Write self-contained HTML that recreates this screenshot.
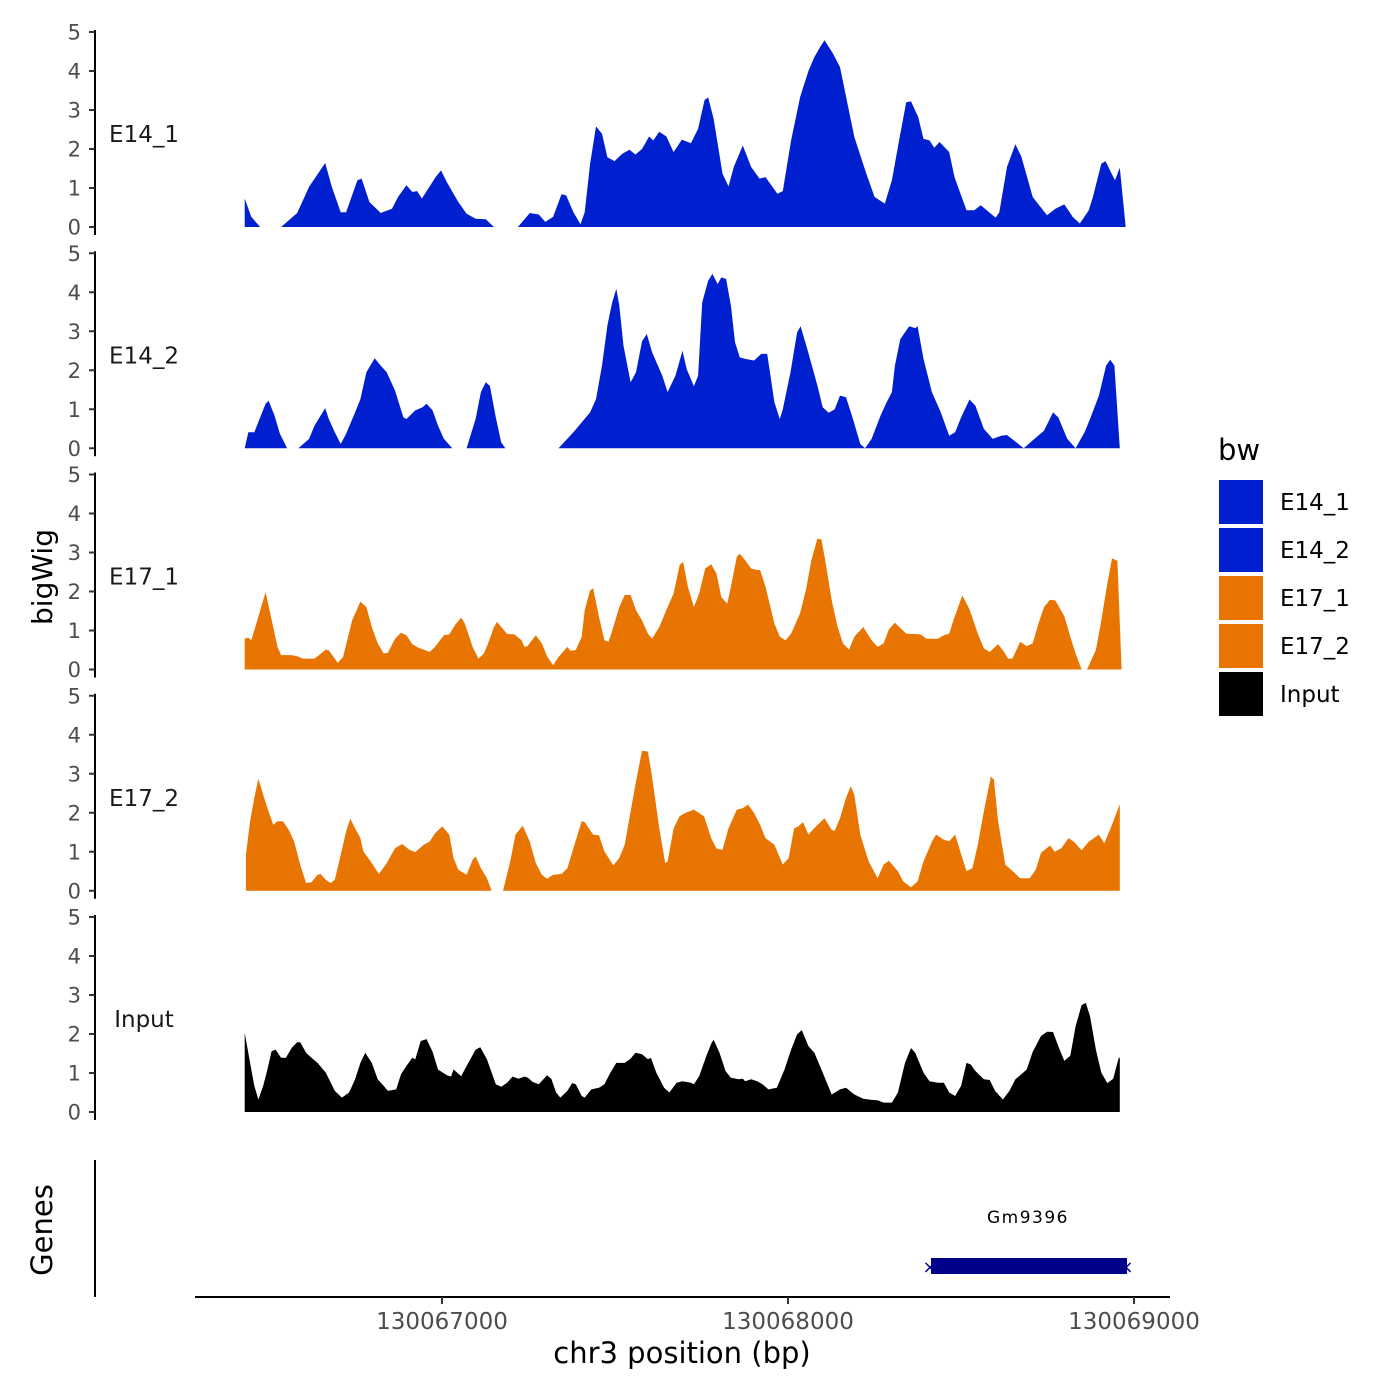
<!DOCTYPE html>
<html><head><meta charset="utf-8"><style>
body{margin:0;background:#fff;}
svg{display:block;font-family:"DejaVu Sans","Liberation Sans",sans-serif;}
</style></head><body>
<svg id="chart" width="1400" height="1400" viewBox="0 0 1400 1400" xmlns="http://www.w3.org/2000/svg">
<rect width="1400" height="1400" fill="#fff"/>
<g id="panels"></g>
<text transform="translate(52,577) rotate(-90)" text-anchor="middle" font-size="28" fill="#000">bigWig</text>
<text transform="translate(52,1230) rotate(-90)" text-anchor="middle" font-size="29" fill="#000">Genes</text>
<line x1="95" y1="1160" x2="95" y2="1297" stroke="#000" stroke-width="2"/>
<line x1="195" y1="1297" x2="1170" y2="1297" stroke="#000" stroke-width="2"/>
<g id="xticks"></g>
<text x="682" y="1363" text-anchor="middle" font-size="29" fill="#000">chr3 position (bp)</text>
<g>
<rect id="generect" x="931" y="1258" width="196" height="16" fill="#00008B"/>
<text x="1028" y="1223" text-anchor="middle" font-size="17" letter-spacing="1.5" fill="#000">Gm9396</text>
<text x="930" y="1273" text-anchor="middle" font-size="18" fill="#00008B">×</text>
<text x="1126" y="1273" text-anchor="middle" font-size="18" fill="#00008B">×</text>
</g>
<g id="legend">
<text x="1218" y="460" font-size="29" fill="#000">bw</text>
</g>
</svg>
<script>
const regionStart = 130066416;
const posUnitBp = 1.724; // each recorded position unit equals this many bp
const trackNames = ["E14_1","E14_2","E17_1","E17_2","Input"];
const trackColors = ["#0020D0","#0020D0","#E87502","#E87502","#000000"];
const yTicks = [0,1,2,3,4,5];
const xTicks = [130067000,130068000,130069000];
const xTickLabels = ["130067000","130068000","130069000"];
const legendLabels = ["E14_1","E14_2","E17_1","E17_2","Input"];

const E14_1 = [[8,.73],[19,.26],[34,0],null,[69,0],[96,.36],[116,1.03],[143,1.64],[154,1.03],[169,.38],[178,.38],[197,1.2],[204,1.24],[217,.64],[236,.36],[255,.47],[265,.77],[279,1.07],[289,.9],[297,.92],[305,.73],[328,1.28],[337,1.45],[347,1.15],[366,.64],[380,.34],[395,.21],[412,.2],[426,0],null,[466,0],[486,.36],[501,.32],[512,.13],[525,.26],[539,.84],[547,.81],[559,.38],[571,.07],[578,.38],[587,1.62],[597,2.58],[607,2.39],[616,1.79],[628,1.69],[641,1.88],[653,1.98],[663,1.86],[674,2.0],[686,2.32],[693,2.22],[703,2.44],[715,2.32],[727,1.92],[741,2.24],[756,2.15],[768,2.52],[779,3.26],[785,3.32],[794,2.78],[809,1.37],[819,1.04],[828,1.54],[843,2.09],[857,1.54],[871,1.24],[881,1.28],[901,.85],[910,.92],[924,2.22],[939,3.33],[953,4.0],[963,4.36],[973,4.62],[980,4.79],[987,4.62],[994,4.45],[1006,4.1],[1030,2.31],[1050,1.37],[1064,.77],[1081,.6],[1093,1.2],[1105,2.22],[1117,3.2],[1125,3.22],[1137,2.82],[1146,2.26],[1156,2.22],[1164,2.03],[1173,2.18],[1189,1.92],[1198,1.28],[1218,.43],[1231,.43],[1242,.56],[1262,.3],[1267,.24],[1273,.38],[1286,1.54],[1300,2.12],[1310,1.8],[1329,.77],[1353,.3],[1367,.47],[1382,.58],[1396,.26],[1408,.09],[1423,.43],[1430,.77],[1444,1.62],[1451,1.69],[1460,1.41],[1467,1.2],[1475,1.52],[1485,0]];

const E14_2 = [[8,0],[14,.41],[24,.41],[43,1.14],[48,1.22],[58,.84],[67,.37],[79,0],null,[98,0],[116,.24],[125,.58],[143,1.03],[149,.75],[159,.41],[169,.11],[178,.37],[193,.92],[202,1.26],[212,1.95],[226,2.31],[236,2.12],[246,1.95],[260,1.48],[274,.79],[279,.75],[294,.97],[306,1.05],[313,1.14],[323,.97],[332,.58],[342,.24],[356,0],null,[380,0],[395,.75],[404,1.44],[412,1.69],[419,1.6],[429,.79],[438,.15],[445,0],null,[534,0],[559,.41],[587,.92],[597,1.26],[607,2.12],[616,3.15],[624,3.74],[631,4.09],[636,3.66],[643,2.63],[655,1.69],[664,1.95],[674,2.74],[682,2.93],[691,2.46],[708,1.86],[717,1.44],[730,1.86],[742,2.5],[749,2.03],[761,1.59],[768,1.86],[775,3.74],[785,4.3],[792,4.47],[801,4.21],[807,4.38],[815,4.34],[823,3.66],[830,2.72],[838,2.33],[847,2.29],[862,2.25],[874,2.42],[884,2.42],[896,1.18],[905,.75],[910,1.0],[923,1.95],[934,2.97],[940,3.13],[951,2.55],[968,1.61],[977,1.05],[987,.91],[997,1.0],[1006,1.35],[1016,1.31],[1026,.84],[1040,.11],[1048,0],[1059,.24],[1074,.84],[1083,1.14],[1093,1.44],[1098,2.12],[1107,2.8],[1122,3.13],[1132,3.08],[1136,3.13],[1146,2.29],[1160,1.44],[1175,.92],[1189,.32],[1199,.41],[1209,.79],[1223,1.25],[1233,1.09],[1247,.5],[1262,.24],[1276,.32],[1286,.34],[1300,.17],[1314,0],[1329,.2],[1348,.45],[1363,.92],[1372,.79],[1387,.24],[1401,0],[1416,.41],[1425,.75],[1440,1.35],[1452,2.12],[1459,2.27],[1466,2.12],[1475,0]];

const E17_1 = [[8,.79],[14,.82],[19,.75],[27,1.15],[39,1.78],[43,1.98],[53,1.28],[63,.58],[69,.37],[87,.37],[96,.34],[106,.28],[125,.28],[144,.51],[149,.49],[164,.17],[173,.32],[188,1.26],[202,1.74],[212,1.6],[221,1.09],[231,.67],[241,.41],[248,.43],[260,.79],[270,.94],[279,.88],[289,.65],[299,.56],[308,.51],[318,.45],[327,.58],[342,.88],[351,.9],[361,1.15],[371,1.33],[377,1.18],[390,.58],[400,.28],[409,.41],[416,.67],[426,1.09],[431,1.22],[448,.91],[460,.9],[472,.75],[477,.58],[482,.6],[496,.88],[506,.67],[515,.34],[525,.11],[534,.32],[549,.58],[554,.48],[563,.5],[573,.84],[578,1.52],[587,2.03],[592,2.08],[602,1.35],[611,.75],[618,.71],[626,1.09],[636,1.6],[645,1.91],[655,1.91],[664,1.52],[674,1.26],[684,.92],[691,.79],[703,1.09],[717,1.6],[727,1.95],[737,2.68],[743,2.76],[751,2.12],[761,1.6],[770,1.95],[780,2.59],[790,2.7],[799,2.46],[807,1.86],[817,1.69],[823,2.12],[833,2.89],[838,2.97],[847,2.8],[857,2.59],[867,2.55],[872,2.55],[881,2.12],[896,1.18],[905,.84],[915,.75],[924,.92],[939,1.44],[949,2.05],[958,2.8],[968,3.36],[975,3.33],[982,2.72],[992,1.78],[1002,1.09],[1011,.67],[1021,.51],[1030,.84],[1045,1.09],[1059,.75],[1069,.58],[1079,.67],[1088,1.03],[1098,1.2],[1117,.92],[1141,.9],[1151,.79],[1170,.79],[1180,.88],[1189,.92],[1196,1.26],[1211,1.9],[1223,1.54],[1237,.92],[1247,.54],[1257,.45],[1271,.65],[1281,.45],[1288,.28],[1295,.28],[1308,.71],[1319,.6],[1329,.67],[1339,1.2],[1348,1.6],[1358,1.79],[1367,1.77],[1382,1.37],[1392,.84],[1401,.41],[1411,0],null,[1420,0],[1435,.5],[1444,1.26],[1454,2.2],[1462,2.85],[1471,2.79],[1478,0]];

const E17_2 = [[10,.92],[17,1.78],[24,2.38],[31,2.87],[39,2.46],[48,2.03],[56,1.69],[63,1.78],[72,1.78],[82,1.56],[91,1.26],[101,.67],[111,.2],[120,.22],[130,.41],[135,.43],[144,.28],[152,.2],[159,.28],[169,.92],[178,1.52],[185,1.85],[193,1.6],[202,1.35],[207,1.01],[221,.71],[233,.43],[246,.71],[260,1.09],[272,1.2],[284,1.05],[294,.99],[308,1.18],[318,1.26],[327,1.47],[339,1.65],[351,1.44],[358,.84],[366,.54],[380,.41],[390,.79],[395,.88],[404,.58],[414,.32],[422,0],null,[441,0],[453,.75],[462,1.44],[474,1.67],[486,1.26],[496,.71],[506,.41],[515,.31],[525,.41],[539,.43],[549,.58],[559,1.09],[573,1.78],[578,1.76],[592,1.44],[602,1.42],[611,1.01],[626,.65],[636,.84],[645,1.18],[655,2.03],[663,2.72],[674,3.59],[684,3.57],[691,2.91],[703,1.6],[713,.71],[717,.75],[727,1.6],[737,1.91],[746,1.99],[761,2.08],[770,1.99],[778,1.91],[790,1.35],[799,1.08],[809,1.05],[819,1.6],[833,2.08],[843,2.12],[852,2.21],[862,1.99],[872,1.69],[881,1.35],[896,1.18],[910,.67],[920,.84],[929,1.6],[936,1.65],[944,1.76],[953,1.44],[963,1.61],[980,1.86],[992,1.56],[997,1.54],[1006,1.86],[1016,2.38],[1024,2.68],[1030,2.46],[1040,1.44],[1054,.75],[1069,.32],[1079,.67],[1088,.77],[1103,.5],[1112,.24],[1125,.09],[1136,.24],[1146,.75],[1160,1.26],[1167,1.44],[1180,1.31],[1189,1.27],[1199,1.44],[1211,.84],[1218,.5],[1228,.58],[1237,1.18],[1247,2.03],[1259,2.93],[1264,2.85],[1271,1.78],[1283,.67],[1295,.51],[1308,.32],[1324,.32],[1334,.54],[1343,.97],[1358,1.16],[1366,1.0],[1377,1.09],[1389,1.35],[1398,1.26],[1411,1.04],[1423,1.26],[1440,1.44],[1449,1.22],[1462,1.69],[1475,2.22]];

const Input = [[8,2.03],[17,1.26],[24,.67],[31,.32],[39,.67],[46,1.09],[53,1.56],[60,1.6],[69,1.39],[77,1.39],[87,1.65],[96,1.79],[101,1.79],[111,1.52],[120,1.39],[130,1.26],[144,1.01],[159,.54],[171,.37],[183,.5],[193,.84],[202,1.26],[210,1.52],[221,1.26],[231,.84],[241,.67],[248,.54],[262,.58],[270,.97],[279,1.18],[289,1.39],[294,1.35],[303,1.82],[313,1.87],[323,1.54],[332,1.09],[347,.94],[354,.91],[358,1.09],[371,.92],[380,1.18],[395,1.6],[403,1.66],[414,1.35],[429,.71],[438,.65],[448,.75],[457,.91],[467,.85],[477,.91],[483,.88],[491,.77],[501,.71],[515,.94],[522,.85],[530,.5],[537,.37],[549,.54],[557,.74],[563,.71],[573,.41],[578,.37],[589,.58],[602,.62],[611,.71],[621,1.01],[631,1.26],[645,1.26],[655,1.37],[663,1.52],[674,1.48],[684,1.35],[689,1.39],[698,1.01],[711,.62],[720,.5],[732,.75],[742,.79],[756,.75],[761,.71],[770,.92],[782,1.44],[790,1.75],[794,1.85],[804,1.52],[814,1.05],[823,.88],[836,.84],[843,.85],[847,.79],[857,.84],[867,.79],[876,.71],[886,.58],[900,.62],[913,1.09],[924,1.6],[934,1.99],[942,2.1],[953,1.69],[963,1.52],[977,1.01],[992,.45],[1006,.58],[1016,.62],[1030,.45],[1045,.34],[1059,.31],[1069,.3],[1079,.24],[1093,.24],[1103,.5],[1115,1.26],[1125,1.64],[1132,1.52],[1146,1.01],[1156,.79],[1170,.75],[1180,.75],[1189,.5],[1199,.41],[1209,.67],[1218,1.26],[1225,1.22],[1233,1.05],[1247,.84],[1257,.82],[1266,.54],[1279,.32],[1290,.54],[1300,.84],[1310,.97],[1319,1.09],[1329,1.54],[1343,1.95],[1353,2.06],[1363,2.05],[1372,1.69],[1382,1.31],[1392,1.44],[1401,2.2],[1411,2.74],[1418,2.8],[1425,2.46],[1435,1.6],[1444,1.01],[1454,.74],[1464,.85],[1473,1.38],[1475,1.4]];

const trackData = [E14_1, E14_2, E17_1, E17_2, Input];

const NS = "http://www.w3.org/2000/svg";
const panelsG = document.getElementById("panels");
const xScale = bp => 442 + (bp - 130067000) * 0.346;
const posToBp = off => regionStart + off * posUnitBp;
const panelBase = i => 227 + i * 221.25;
const yScale = (i, v) => panelBase(i) - v * 39;
function mk(tag, attrs, parent){
  const el = document.createElementNS(NS, tag);
  for (const k in attrs) el.setAttribute(k, attrs[k]);
  parent.appendChild(el);
  return el;
}

trackData.forEach((data, i) => {
  const g = mk("g", {}, panelsG);
  
  
  const y0 = panelBase(i);
  const segs = [];
  let cur = [];
  data.forEach(p => { if (p === null) { if (cur.length) segs.push(cur); cur = []; } else cur.push(p); });
  if (cur.length) segs.push(cur);
  segs.forEach(seg => {
    let d = "M" + xScale(posToBp(seg[0][0])).toFixed(1) + "," + y0;
    seg.forEach(p => { d += "L" + xScale(posToBp(p[0])).toFixed(1) + "," + yScale(i, p[1]).toFixed(1); });
    d += "L" + xScale(posToBp(seg[seg.length - 1][0])).toFixed(1) + "," + y0 + "Z";
    const path = mk("path", {d: d, fill: trackColors[i]}, g);
    
    
  });
  const ax = mk("line", {x1: 95, y1: y0 - 197, x2: 95, y2: y0 + 8, stroke: "#000", "stroke-width": 2}, g);
  
  
  yTicks.forEach(t => {
    const ty = yScale(i, t);
    const tk = mk("line", {x1: 89, y1: ty, x2: 95, y2: ty, stroke: "#333", "stroke-width": 2}, g);
    
    
    const tl = mk("text", {x: 81, y: ty + 7.5, "text-anchor": "end", "font-size": 21, fill: "#4d4d4d"}, g);
    tl.textContent = String(t);
    
    
  });
  const lab = mk("text", {x: 144, y: y0 - 85, "text-anchor": "middle", "font-size": 23, fill: "#1a1a1a"}, g);
  lab.textContent = trackNames[i];
  
  
});

const xg = document.getElementById("xticks");
xTicks.forEach((t, k) => {
  const x = xScale(t);
  const l = mk("line", {x1: x, y1: 1297, x2: x, y2: 1304, stroke: "#333", "stroke-width": 2}, xg);
  
  
  const tx = mk("text", {x: x, y: 1329, "text-anchor": "middle", "font-size": 23, fill: "#4d4d4d"}, xg);
  tx.textContent = xTickLabels[k];
  
  
});

const lg = document.getElementById("legend");
legendLabels.forEach((name, k) => {
  const y = 480 + k * 48;
  const r = mk("rect", {x: 1219, y: y, width: 44, height: 44, fill: trackColors[k]}, lg);
  
  
  const t = mk("text", {x: 1280, y: y + 30, "font-size": 23, fill: "#000"}, lg);
  t.textContent = name;
  
  
});
</script>
</body></html>
